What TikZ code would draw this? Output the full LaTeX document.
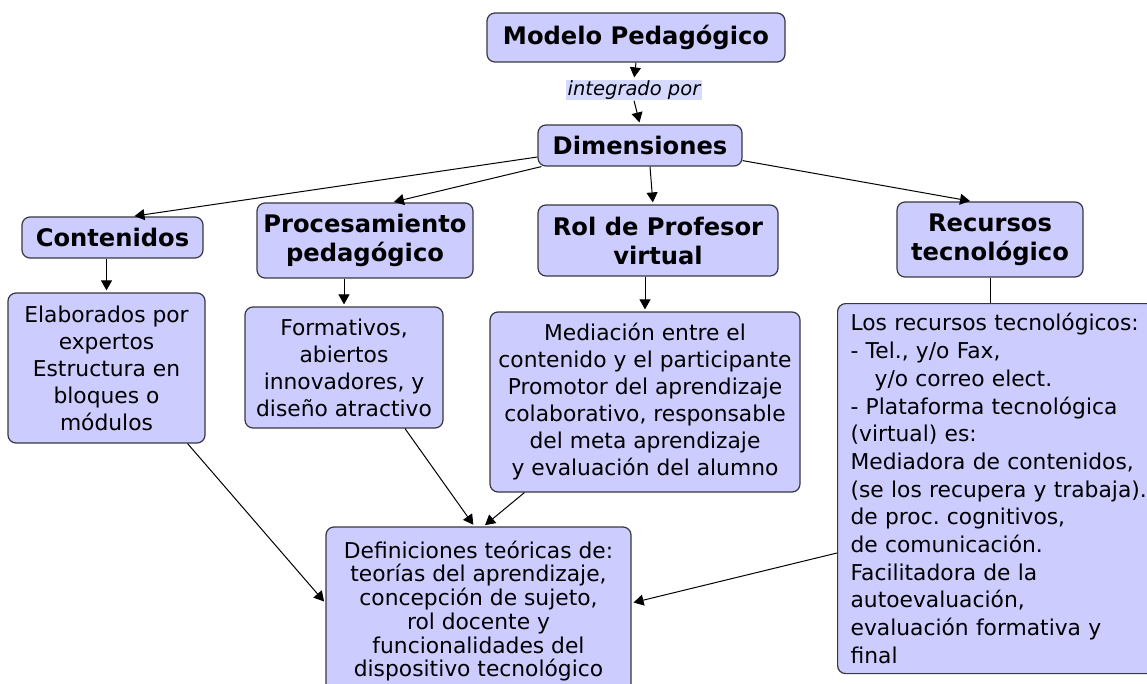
\documentclass[tikz,border=0pt]{standalone}
\usepackage{fontspec}
\setmainfont{DejaVu Sans}
\frenchspacing
\usetikzlibrary{arrows.meta}
\definecolor{boxfill}{RGB}{204,204,255}
\definecolor{boxline}{RGB}{55,55,65}
\definecolor{linkfill}{RGB}{214,218,255}
\tikzset{
  concept/.style={draw=boxline,fill=boxfill,line width=1.2pt,rounded corners=8pt,
    font=\fontsize{24.2}{29}\selectfont\bfseries,align=center,inner sep=2pt},
  detail/.style={draw=boxline,fill=boxfill,line width=1.2pt,rounded corners=8pt,
    font=\fontsize{21.8}{27}\selectfont,align=center,inner sep=2pt},
  linkword/.style={fill=linkfill,inner xsep=2pt,inner ysep=1pt,font=\fontsize{19.5}{21}\selectfont\itshape},
  link/.style={line width=1pt,shorten >=2pt,-{Triangle[length=10pt,width=11pt]}},
  plainlink/.style={line width=1pt}
}
\begin{document}
\begin{tikzpicture}[x=1pt,y=-1pt]
  %%%%% START %%%%%
  \useasboundingbox (0,0) rectangle (1147,684);

  % top of the map
  \node[concept,minimum width=298,minimum height=49] (modelo) at (636,37.5) {Modelo Pedagógico};
  \node[linkword] (integ) at (634,90) {integrado por};
  \node[concept,minimum width=204,minimum height=41] (dim) at (640,145.5) {Dimensiones};

  % the four dimensions
  \node[concept,minimum width=181,minimum height=41] (cont) at (112.5,237.5) {Contenidos};
  \node[concept,minimum width=216,minimum height=75] (proc) at (365,240.5) {Procesamiento\\pedagógico};
  \node[concept,minimum width=240,minimum height=71] (rol) at (658,240.5) {Rol de Profesor\\virtual};
  \node[concept,minimum width=186,minimum height=75] (rec) at (990,239.5) {Recursos\\tecnológico};

  % descriptions
  \node[detail,minimum width=197,minimum height=150] (elab) at (106.5,368)
    {Elaborados por\\expertos\\Estructura en\\bloques o\\módulos};
  \node[detail,minimum width=198,minimum height=121] (form) at (344,367.5)
    {Formativos,\\abiertos\\innovadores, y\\diseño atractivo};
  \node[detail,minimum width=310,minimum height=180] (med) at (645,402)
    {Mediación entre el\\contenido y el participante\\Promotor del aprendizaje\\colaborativo, responsable\\del meta aprendizaje\\y evaluación del alumno};
  \node[detail,align=left,anchor=north west,text width=300pt,minimum height=370,
    inner xsep=13pt,font=\fontsize{21.8}{27.7}\selectfont] (recbox) at (837,303)
    {Los recursos tecnológicos:\\- Tel., y/o Fax,\\\hspace*{1.1em}y/o correo elect.\\- Plataforma tecnológica\\(virtual) es:\\Mediadora de contenidos,\\(se los recupera y trabaja).\\de proc. cognitivos,\\de comunicación.\\Facilitadora de la\\autoevaluación,\\evaluación formativa y\\final};
  \node[detail,minimum width=305,minimum height=168,font=\fontsize{21.8}{23.7}\selectfont] (def) at (478.5,611)
    {Definiciones teóricas de:\\teorías del aprendizaje,\\concepción de sujeto,\\rol docente y\\funcionalidades del\\dispositivo tecnológico};

  % connectors
  \draw[link] (modelo.south) -- (integ.north);
  \draw[link] (integ.south) -- (dim.north);
  \draw[link] ([yshift=-11.5pt]dim.west) -- ([xshift=20pt]cont.north);
  \draw[link] ([xshift=4pt]dim.south west) -- ([xshift=27pt]proc.north);
  \draw[link] ([xshift=10pt]dim.south) -- ([xshift=-5pt]rol.north);
  \draw[link] ([yshift=6pt]dim.south east) -- ([xshift=-18pt]rec.north);

  \draw[link] (elab.north |- cont.south) -- (elab.north);
  \draw[link] (form.north |- proc.south) -- (form.north);
  \draw[link] (med.north |- rol.south) -- (med.north);
  \draw[plainlink] (rec.south) -- (rec.south |- recbox.north);

  \draw[link] ([xshift=-18pt]elab.south east) -- ([yshift=8pt]def.west);
  \draw[link] ([xshift=61pt]form.south) -- ([xshift=-4pt]def.north);
  \draw[link] ([xshift=35pt]med.south west) -- ([xshift=5pt]def.north);
  \draw[link] ([yshift=-250pt]recbox.north west) -- ([yshift=8pt]def.east);
  %%%%% END %%%%%
\end{tikzpicture}
\end{document}
